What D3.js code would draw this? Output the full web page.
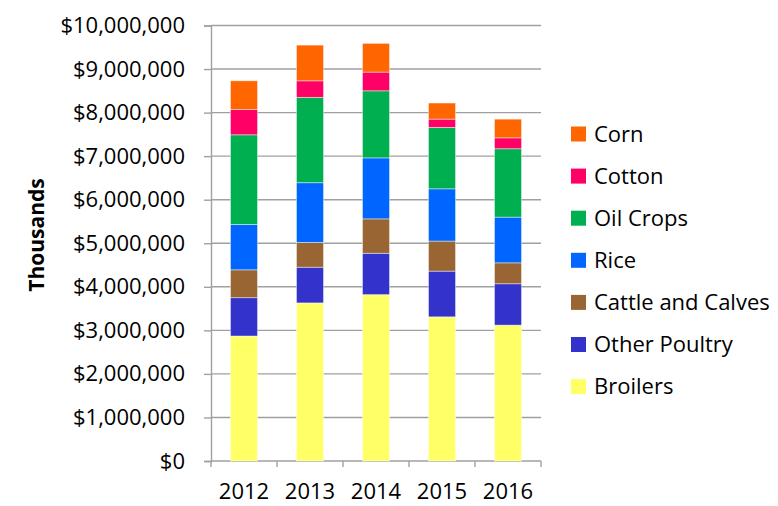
<!DOCTYPE html>
<html>
<head>
<meta charset="utf-8">
<script src="https://cdn.jsdelivr.net/npm/d3@7"></script>
<style>
  body { margin: 0; background: #fff; }
  text { font-family: "Open Sans", sans-serif; fill: #000; }
</style>
</head>
<body>
<div id="chart"></div>
<script>
// values in thousands of dollars
var years = ["2012", "2013", "2014", "2015", "2016"];
var series = ["Broilers", "Other Poultry", "Cattle and Calves", "Rice", "Oil Crops", "Cotton", "Corn"];
var colors = ["#FFFF66", "#3333CC", "#996633", "#0066FF", "#00B050", "#FF0066", "#FF6600"];

var broilers     = [2870000, 3630000, 3820000, 3310000, 3120000];
var otherPoultry = [ 880000,  820000,  950000, 1050000,  950000];
var cattle       = [ 640000,  570000,  790000,  690000,  480000];
var rice         = [1040000, 1370000, 1400000, 1200000, 1050000];
var oilCrops     = [2060000, 1960000, 1540000, 1410000, 1570000];
var cotton       = [ 580000,  380000,  430000,  190000,  250000];
var corn         = [ 660000,  820000,  660000,  370000,  430000];

var yTicks = [0, 1000000, 2000000, 3000000, 4000000, 5000000, 6000000, 7000000, 8000000, 9000000, 10000000];

var seriesValues = [broilers, otherPoultry, cattle, rice, oilCrops, cotton, corn];

var rows = years.map(function (yr, i) {
    var r = { year: yr };
    series.forEach(function (s, j) { r[s] = seriesValues[j][i]; });
    return r;
});

var margin = { top: 25.5, right: 237, bottom: 45, left: 211 },
    width = 778 - margin.left - margin.right,
    height = 506 - margin.top - margin.bottom;

var svg = d3.select("#chart")
    .append("svg")
    .attr("width", 778)
    .attr("height", 506)
    .append("g")
    .attr("transform", "translate(" + margin.left + "," + margin.top + ")");

var x = d3.scaleBand()
    .domain(years)
    .range([0, width])
    .paddingInner(0.59)
    .paddingOuter(0.295);

var y = d3.scaleLinear()
    .domain([0, 10000000])
    .range([height, 0]);

var color = d3.scaleOrdinal().domain(series).range(colors);

// gridlines
svg.append("g")
    .selectAll("line")
    .data(yTicks)
    .enter().append("line")
    .attr("x1", 0)
    .attr("x2", width)
    .attr("y1", function (d) { return y(d); })
    .attr("y2", function (d) { return y(d); })
    .attr("stroke", "#a0a0a0")
    .attr("stroke-width", 1.4);

// y axis
var yAxis = svg.append("g")
    .call(d3.axisLeft(y)
        .tickValues(yTicks)
        .tickSize(7)
        .tickPadding(19)
        .tickFormat(function (d) { return "$" + d3.format(",")(d); }));
yAxis.select(".domain").attr("stroke", "#a0a0a0").attr("stroke-width", 1.4);
yAxis.selectAll(".tick line").attr("stroke", "#a0a0a0").attr("stroke-width", 1.4);
yAxis.selectAll(".tick text").style("font-size", "22px");

// x axis: labels at band centres, ticks at band edges
var xAxis = svg.append("g")
    .attr("transform", "translate(0," + height + ")")
    .call(d3.axisBottom(x).tickSize(0).tickPadding(22));
xAxis.select(".domain").remove();
xAxis.selectAll(".tick text").style("font-size", "22px");

var edges = years.map(function (d) { return x(d) - (x.step() - x.bandwidth()) / 2; });
edges.push(width);
svg.append("g")
    .selectAll("line")
    .data(edges)
    .enter().append("line")
    .attr("x1", function (d) { return d; })
    .attr("x2", function (d) { return d; })
    .attr("y1", height)
    .attr("y2", height + 6)
    .attr("stroke", "#a0a0a0")
    .attr("stroke-width", 1.4);

// stacked bars
var stacked = d3.stack().keys(series)(rows);

svg.append("g")
    .selectAll("g")
    .data(stacked)
    .enter().append("g")
    .attr("fill", function (d) { return color(d.key); })
    .selectAll("rect")
    .data(function (d) { return d; })
    .enter().append("rect")
    .attr("x", function (d) { return x(d.data.year); })
    .attr("y", function (d) { return y(d[1]); })
    .attr("width", x.bandwidth())
    .attr("height", function (d) { return y(d[0]) - y(d[1]); })
    .attr("stroke", "rgba(255,255,255,0.55)")
    .attr("stroke-width", 0.8);

// y label
svg.append("text")
    .attr("transform", "rotate(-90)")
    .attr("x", -(235 - margin.top))
    .attr("y", -margin.left + 44)
    .attr("text-anchor", "middle")
    .style("font-size", "21px")
    .style("font-weight", "bold")
    .text("Thousands");

// legend, top to bottom: last series first
var legendKeys = series.slice().reverse();
var legend = svg.append("g")
    .attr("transform", "translate(" + (571 - margin.left) + "," + (134 - margin.top) + ")");

var items = legend.selectAll("g")
    .data(legendKeys)
    .enter().append("g")
    .attr("transform", function (d, i) { return "translate(0," + (i * 42.1) + ")"; });

items.append("rect")
    .attr("x", 0)
    .attr("y", -7.5)
    .attr("width", 15)
    .attr("height", 15)
    .attr("fill", function (d) { return color(d); });

items.append("text")
    .attr("x", 23)
    .attr("y", 0)
    .attr("dy", "0.35em")
    .style("font-size", "22px")
    .text(function (d) { return d; });
</script>
</body>
</html>
